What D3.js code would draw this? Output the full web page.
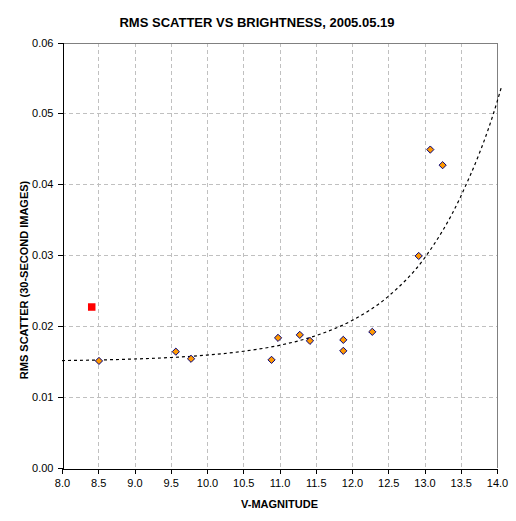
<!DOCTYPE html>
<html>
<head>
<meta charset="utf-8">
<script src="https://cdn.jsdelivr.net/npm/d3@7/dist/d3.min.js"></script>
<style>
  html, body { margin: 0; padding: 0; background: #fff; }
  svg { display: block; font-family: Arial, "Liberation Sans", sans-serif; }
</style>
</head>
<body>
<svg id="chart" width="516" height="521"></svg>
<script>
// V magnitudes and rms scatter
const magnitudes = [8.51, 9.57, 9.78, 10.89, 10.98, 11.28, 11.42, 11.88, 11.88, 12.28, 12.92, 13.08, 13.25]
const scatter = [0.0151, 0.0164, 0.0154, 0.01525, 0.01835, 0.01877, 0.01793, 0.01807, 0.01652, 0.0192, 0.0299, 0.0449, 0.0427]

// the one outlier drawn as a red square
const outlierMag = [8.41]
const outlierScatter = [0.0227]

// dashed trend curve
const trendMag = [8.0, 8.5, 9.0, 9.5, 10.0, 10.5, 11.0, 11.5, 12.0, 12.5, 13.0, 13.5, 14.0, 14.06]
const trendScatter = [0.01515, 0.01523, 0.01537, 0.01558, 0.01592, 0.01646, 0.0173, 0.01866, 0.0208, 0.0242, 0.0296, 0.0383, 0.0516, 0.0537]

const xTicks = d3.range(8, 14.01, 0.5)
const yTicks = [0, 0.01, 0.02, 0.03, 0.04, 0.05, 0.06]

const svg = d3.select('#chart')
const margin = { left: 62, right: 19, top: 42.5, bottom: 53 }
const W = 516, H = 521

const x = d3.scaleLinear().domain([8, 14]).range([margin.left, W - margin.right])
const y = d3.scaleLinear().domain([0, 0.06]).range([H - margin.bottom, margin.top])

// gridlines
const grid = svg.append('g')
  .attr('stroke', '#c0c0c0')
  .attr('stroke-dasharray', '4,3')
  .attr('shape-rendering', 'crispEdges')

grid.selectAll('line.v')
  .data(xTicks.slice(1, -1))
  .enter().append('line')
  .attr('x1', (d) => Math.round(x(d)) + 0.5)
  .attr('x2', (d) => Math.round(x(d)) + 0.5)
  .attr('y1', y(0.06))
  .attr('y2', y(0))

grid.selectAll('line.h')
  .data(yTicks.slice(1, -1))
  .enter().append('line')
  .attr('x1', x(8))
  .attr('x2', x(14))
  .attr('y1', (d) => Math.round(y(d)) + 0.5)
  .attr('y2', (d) => Math.round(y(d)) + 0.5)

// grey frame on top and right
svg.append('path')
  .attr('d', `M${x(8)},${Math.round(y(0.06)) + 0.5}H${Math.round(x(14)) + 0.5}V${y(0)}`)
  .attr('fill', 'none')
  .attr('stroke', '#808080')
  .attr('shape-rendering', 'crispEdges')

// axes
const xAxis = svg.append('g')
  .attr('transform', `translate(0,${Math.round(y(0)) + 0.5})`)
  .call(d3.axisBottom(x).tickValues(xTicks).tickFormat(d3.format('.1f')).tickSize(5).tickPadding(6))
const yAxis = svg.append('g')
  .attr('transform', `translate(${Math.round(x(8)) + 0.5},0)`)
  .call(d3.axisLeft(y).tickValues(yTicks).tickFormat(d3.format('.2f')).tickSize(5).tickPadding(4))

;[xAxis, yAxis].forEach((ax) => {
  ax.selectAll('path, line').attr('stroke', '#000').attr('shape-rendering', 'crispEdges')
  ax.selectAll('text').attr('fill', '#000').style('font-size', '11px')
    .style('font-family', 'Arial, "Liberation Sans", sans-serif')
})

// trend curve
const trendLine = d3.line()
  .x((d, i) => x(trendMag[i]))
  .y((d, i) => y(trendScatter[i]))
  .curve(d3.curveMonotoneX)

svg.append('path')
  .datum(trendMag)
  .attr('d', trendLine)
  .attr('fill', 'none')
  .attr('stroke', '#000')
  .attr('stroke-width', 1.2)
  .attr('stroke-dasharray', '3,3')

// points
const points = magnitudes.map((m, i) => ({ m, s: scatter[i] }))
svg.append('g').selectAll('path')
  .data(points)
  .enter().append('path')
  .attr('transform', (d) => `translate(${x(d.m)},${y(d.s)})`)
  .attr('d', 'M0,-3.6L3.6,0L0,3.6L-3.6,0Z')
  .attr('fill', '#FF9900')
  .attr('stroke', '#000080')
  .attr('stroke-width', 1)

svg.append('g').selectAll('rect')
  .data(outlierMag.map((m, i) => ({ m, s: outlierScatter[i] })))
  .enter().append('rect')
  .attr('x', (d) => x(d.m) - 3.75)
  .attr('y', (d) => y(d.s) - 3.75)
  .attr('width', 7.5)
  .attr('height', 7.5)
  .attr('fill', '#FF0000')

// titles
svg.append('text')
  .attr('x', 257)
  .attr('y', 27)
  .attr('text-anchor', 'middle')
  .style('font-size', '13px')
  .style('font-weight', 'bold')
  .text('RMS SCATTER VS BRIGHTNESS, 2005.05.19')

svg.append('text')
  .attr('x', (x(8) + x(14)) / 2)
  .attr('y', 508)
  .attr('text-anchor', 'middle')
  .style('font-size', '11px')
  .style('font-weight', 'bold')
  .text('V-MAGNITUDE')

svg.append('text')
  .attr('transform', 'translate(27.5,280) rotate(-90)')
  .attr('text-anchor', 'middle')
  .style('font-size', '11px')
  .style('font-weight', 'bold')
  .text('RMS SCATTER (30-SECOND IMAGES)')
</script>
</body>
</html>
